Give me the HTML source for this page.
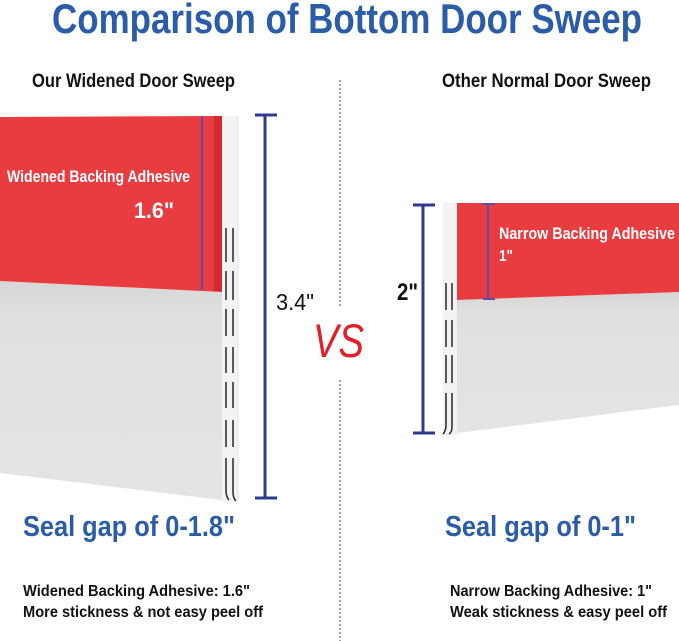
<!DOCTYPE html>
<html>
<head>
<meta charset="utf-8">
<style>
  html,body{margin:0;padding:0;background:#fff;}
  svg{display:block;}
  .c{font-family:"Liberation Sans",sans-serif;font-weight:bold;}
</style>
</head>
<body>
<svg width="679" height="641" viewBox="0 0 679 641" xmlns="http://www.w3.org/2000/svg">
  <defs>
    <linearGradient id="gl" x1="0" y1="0" x2="0" y2="1">
      <stop offset="0" stop-color="#d6d6d6"/>
      <stop offset="0.15" stop-color="#e0e0e0"/>
      <stop offset="1" stop-color="#e4e4e4"/>
    </linearGradient>
  </defs>
  <rect width="679" height="641" fill="#fff"/>

  <!-- Title -->
  <text class="c" x="52" y="33" font-size="42" fill="#2a5ca8" textLength="590" lengthAdjust="spacingAndGlyphs">Comparison of Bottom Door Sweep</text>

  <!-- Subtitles -->
  <text class="c" x="32" y="87" font-size="19.5" fill="#111" textLength="203" lengthAdjust="spacingAndGlyphs">Our Widened Door Sweep</text>
  <text class="c" x="442" y="87" font-size="19.5" fill="#111" textLength="209" lengthAdjust="spacingAndGlyphs">Other Normal Door Sweep</text>

  <!-- Dotted divider -->
  <line x1="340" y1="80" x2="340" y2="307" stroke="#666" stroke-width="1.2" stroke-dasharray="2,2"/>
  <line x1="340" y1="380" x2="340" y2="641" stroke="#666" stroke-width="1.2" stroke-dasharray="2,2"/>

  <!-- LEFT SWEEP -->
  <rect x="222" y="116" width="16" height="386" fill="#f3f3f3"/>
  <line x1="238" y1="116" x2="238" y2="500" stroke="#e6e6e6" stroke-width="1"/>
  <polygon points="0,281 222,292 222,500 0,473" fill="url(#gl)"/>
  <polygon points="0,117 222,116 222,292 0,281" fill="#e83c40"/>
  <polygon points="214,116 222,116 222,292 214,291" fill="#d42a2f"/>
  <line x1="202" y1="116" x2="202" y2="290" stroke="#5b4fa5" stroke-width="2"/>
  <!-- slots left -->
  <g stroke="#333" stroke-width="1.6" fill="none">
    <line x1="226" y1="228" x2="226" y2="262"/><line x1="233" y1="228" x2="233" y2="262"/>
    <line x1="226" y1="271" x2="226" y2="300"/><line x1="233" y1="271" x2="233" y2="300"/>
    <line x1="226" y1="309" x2="226" y2="336"/><line x1="233" y1="309" x2="233" y2="336"/>
    <line x1="226" y1="347" x2="226" y2="373"/><line x1="233" y1="347" x2="233" y2="373"/>
    <line x1="226" y1="382" x2="226" y2="408"/><line x1="233" y1="382" x2="233" y2="408"/>
    <line x1="226" y1="420" x2="226" y2="447"/><line x1="233" y1="420" x2="233" y2="447"/>
    <path d="M226,458 L226,490 Q226,497 229,500"/><path d="M233,458 L233,492 Q233,498 236,501"/>
  </g>
  <text class="c" x="7" y="182" font-size="17" fill="#fff" textLength="183" lengthAdjust="spacingAndGlyphs">Widened Backing Adhesive</text>
  <text class="c" x="134" y="218" font-size="22" fill="#fff" textLength="40" lengthAdjust="spacingAndGlyphs">1.6"</text>

  <!-- Left dimension -->
  <g stroke="#2c3b8f" stroke-width="3">
    <line x1="265" y1="115" x2="265" y2="498"/>
    <line x1="255" y1="115" x2="277" y2="115"/>
    <line x1="255" y1="498" x2="277" y2="498"/>
  </g>
  <text x="276" y="310" font-family="Liberation Sans, sans-serif" font-size="23" fill="#111" textLength="38" lengthAdjust="spacingAndGlyphs">3.4"</text>

  <!-- VS -->
  <text x="313" y="357" font-family="Liberation Sans, sans-serif" font-style="italic" font-size="47" fill="#e3202a" textLength="51" lengthAdjust="spacingAndGlyphs">VS</text>

  <!-- RIGHT SWEEP -->
  <rect x="443" y="203" width="14" height="232" fill="#f3f3f3"/>
  <polygon points="457,300 679,292 679,405 457,433" fill="url(#gl)"/>
  <polygon points="457,203 679,203 679,292 457,300" fill="#e83c40"/>
  <line x1="488" y1="203" x2="488" y2="299" stroke="#5b4fa5" stroke-width="2"/>
  <line x1="483" y1="204" x2="495" y2="204" stroke="#5b4fa5" stroke-width="2"/>
  <line x1="483" y1="299" x2="495" y2="299" stroke="#5b4fa5" stroke-width="2"/>
  <g stroke="#333" stroke-width="1.6" fill="none">
    <line x1="446" y1="283" x2="446" y2="310"/><line x1="452" y1="283" x2="452" y2="310"/>
    <line x1="446" y1="320" x2="446" y2="347"/><line x1="452" y1="320" x2="452" y2="347"/>
    <line x1="446" y1="355" x2="446" y2="383"/><line x1="452" y1="355" x2="452" y2="383"/>
    <path d="M446,393 L446,425 Q446,431 443,434"/><path d="M452,393 L452,427 Q452,432 449,434"/>
  </g>
  <text class="c" x="499" y="239" font-size="16.5" fill="#fff" textLength="176" lengthAdjust="spacingAndGlyphs">Narrow Backing Adhesive</text>
  <text class="c" x="499" y="261" font-size="16" fill="#fff" textLength="14" lengthAdjust="spacingAndGlyphs">1"</text>

  <!-- Right dimension -->
  <g stroke="#2c3b8f" stroke-width="3">
    <line x1="423" y1="205" x2="423" y2="433"/>
    <line x1="413" y1="205" x2="435" y2="205"/>
    <line x1="413" y1="433" x2="435" y2="433"/>
  </g>
  <text class="c" x="397" y="300" font-size="24" fill="#111" textLength="21" lengthAdjust="spacingAndGlyphs">2"</text>

  <!-- Bottom texts -->
  <text class="c" x="23" y="536" font-size="29" fill="#2a5ca8" textLength="212" lengthAdjust="spacingAndGlyphs">Seal gap of 0-1.8"</text>
  <text class="c" x="445" y="536" font-size="29" fill="#2a5ca8" textLength="191" lengthAdjust="spacingAndGlyphs">Seal gap of 0-1"</text>

  <text class="c" x="23" y="596" font-size="15.5" fill="#111" textLength="227" lengthAdjust="spacingAndGlyphs">Widened Backing Adhesive:  1.6"</text>
  <text class="c" x="23" y="617" font-size="15.5" fill="#111" textLength="240" lengthAdjust="spacingAndGlyphs">More stickness &amp; not easy peel off</text>
  <text class="c" x="450" y="596" font-size="15.5" fill="#111" textLength="202" lengthAdjust="spacingAndGlyphs">Narrow Backing Adhesive: 1"</text>
  <text class="c" x="450" y="617" font-size="15.5" fill="#111" textLength="217" lengthAdjust="spacingAndGlyphs">Weak stickness &amp; easy peel off</text>
</svg>
</body>
</html>
